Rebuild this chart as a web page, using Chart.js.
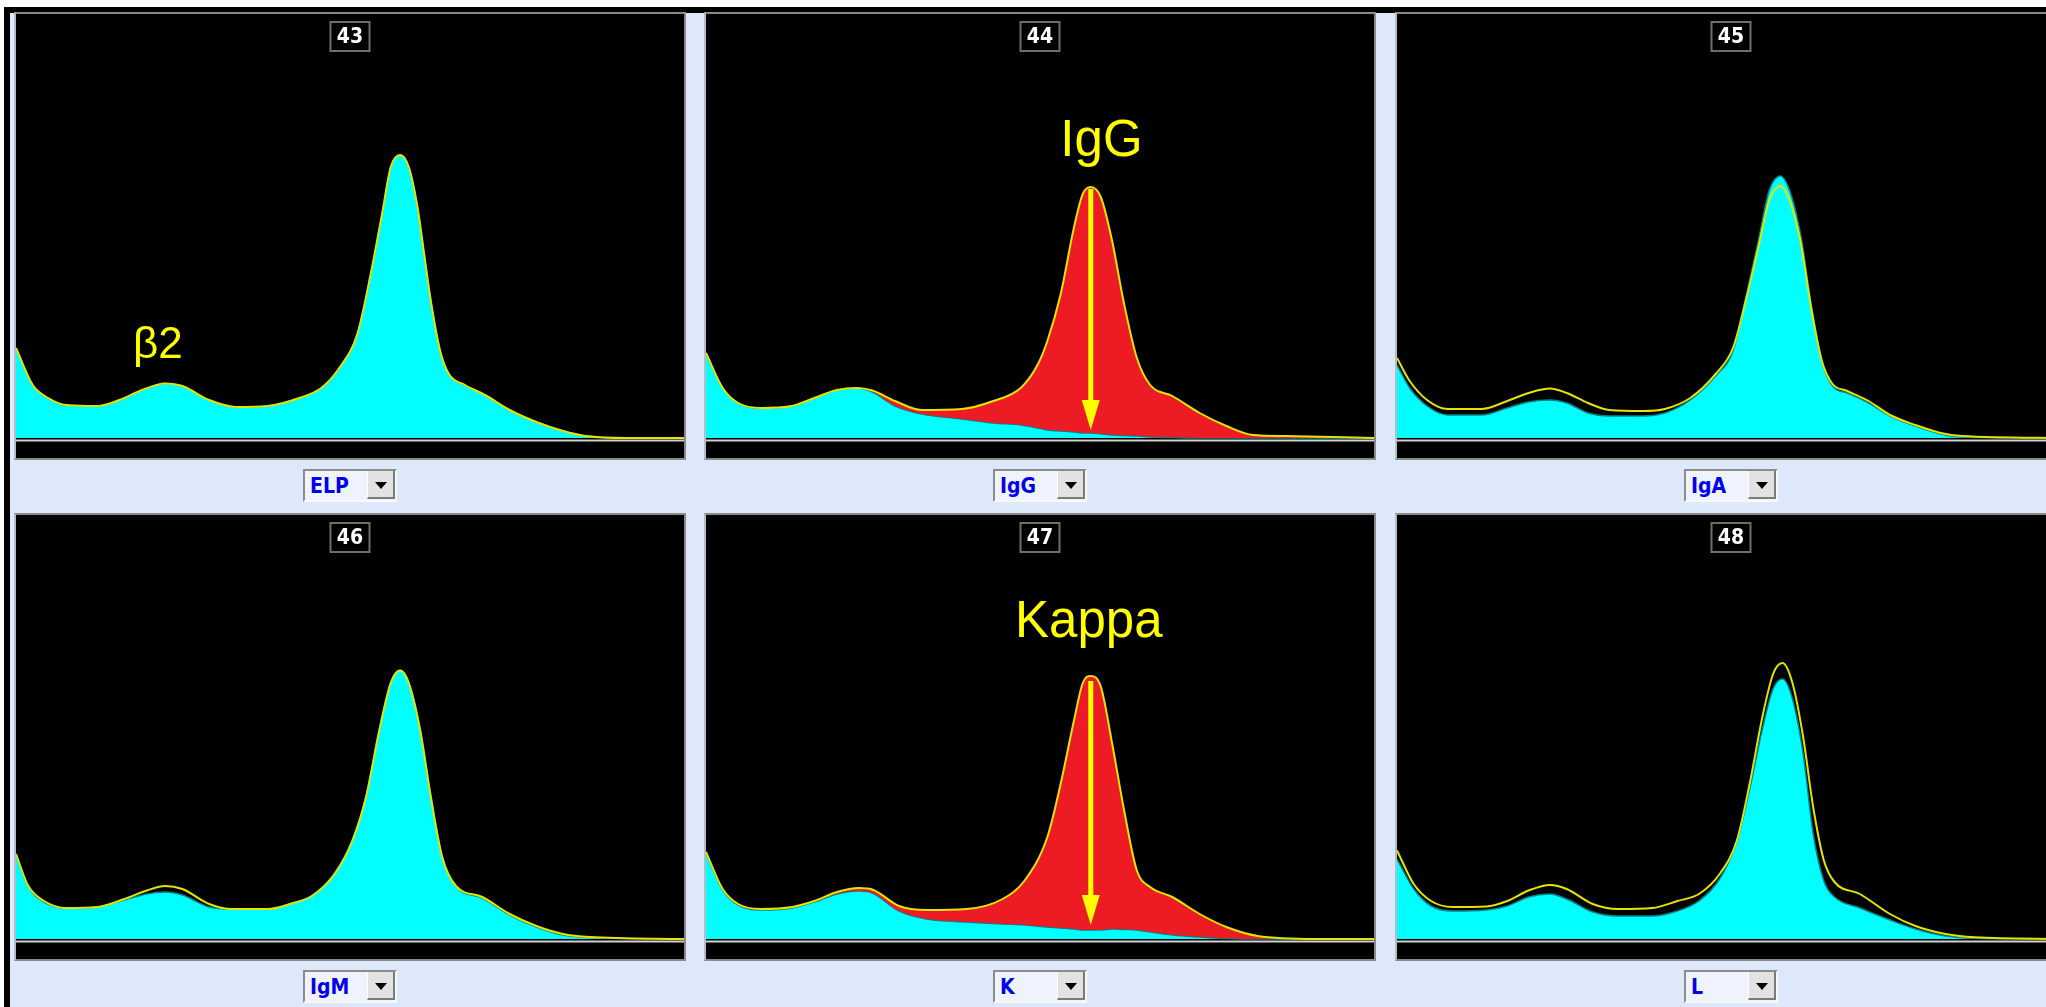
<!DOCTYPE html>
<html>
<head>
<meta charset="utf-8">
<script src="https://cdn.jsdelivr.net/npm/chart.js@4"></script>
<style>
  body { margin: 0; width: 2046px; height: 1007px; overflow: hidden; background: #fff; position: relative; font-family: "Liberation Sans", Arial, sans-serif; }
  #frame { position: absolute; left: 4px; top: 7px; width: 2100px; height: 1100px; background: #dee8fb; border-left: 6px solid #000; border-top: 6px solid #000; }
  .panel { position: absolute; width: 668px; height: 444px; background: #000; border: 2px solid #8a8a8a; border-left-color: #b4bccc; }
  .panel canvas { position: absolute; left: 0; top: 0; }
  .num { position: absolute; top: 7px; left: 50%; transform: translateX(-50%); width: 37px; height: 27px; border: 2px solid #6e6e6e;
         color: #fff; font: bold 21px "Liberation Sans Narrow", "DejaVu Sans Condensed", sans-serif; text-align: center; line-height: 27px; z-index: 2; }
  .combo { position: absolute; width: 90px; height: 29px; border: 2px solid; border-color: #8c8c8c #f8f8f8 #f8f8f8 #8c8c8c; background: #eef3fd; }
  .combo span { position: absolute; left: 5px; top: 3px; color: #0000ee; font: bold 21px "Liberation Sans Narrow", "DejaVu Sans Condensed", sans-serif; }
  .combo .btn { position: absolute; right: 0; top: 0; width: 25px; height: 26px; background: #e2e2e2; border-right: 2px solid #7a7a7a; border-bottom: 2px solid #7a7a7a; border-left: 1px solid #fff; }
  .combo .btn::after { content: ""; position: absolute; left: 7px; top: 11px; border-left: 6px solid transparent; border-right: 6px solid transparent; border-top: 7px solid #000; }
</style>
</head>
<body>
<div id="frame"></div>
<script>
// strip numbers and the selected antiserum of each strip
const panelNums = [43, 44, 45, 46, 47, 48];
const panelNames = ["ELP", "IgG", "IgA", "IgM", "K", "L"];

// x = position along the strip (% of width), values = trace height
const elpX = [0, 2.5, 4.8, 7.5, 12.2, 15.5, 18.9, 22.3, 24.9, 28.9, 33.0, 37.7, 42.4, 45.7, 48.4, 51.1, 53.1, 54.8, 56.1, 57.5, 58.8, 60.1, 61.1, 62.1, 63.5, 64.8, 67.2, 70.2, 73.9, 77.9, 81.9, 85.3, 91.3, 100];
const elpYellow = [90, 53, 40, 33, 32, 38, 48, 54.5, 52, 38, 31, 32, 40, 50, 70, 104, 164, 224, 271, 283, 271, 231, 184, 137, 87, 64, 53, 43, 28, 16, 7, 2, 0, 0];
const elpCyan = [90, 53, 40, 33, 32, 38, 48, 54.5, 52, 38, 31, 32, 40, 50, 70, 104, 164, 224, 271, 283, 271, 231, 184, 137, 87, 64, 53, 43, 28, 16, 7, 2, 0, 0];

const iggX = [0, 2.5, 4.8, 8.2, 12.9, 16.2, 19.6, 22.6, 24.9, 28.3, 32.3, 38.3, 43.0, 47.1, 49.7, 51.1, 53.1, 55.1, 56.4, 57.6, 59.1, 60.8, 62.5, 64.5, 66.5, 69.8, 73.9, 77.9, 81.9, 86.6, 100];
const iggYellow = [85, 50, 35, 30, 32, 40, 48, 50, 47.5, 37, 28, 29, 37, 50, 74, 97, 144, 211, 244, 251, 241, 197, 137, 80, 53, 42, 25, 12, 3, 2, 0];
const iggCyan = [85, 50, 35, 30, 32, 40, 48, 50, 46, 32, 24, 19, 15, 13, 10, 8, 7, 6, 5, 5, 4, 3, 2.5, 2, 1, 0.5, 0, 0, 0, 0, 0];

const igaX = [0, 1.9, 4.5, 7.6, 12.7, 16.5, 19.7, 22.9, 25.4, 28.6, 31.8, 36.9, 40.1, 43.9, 47.7, 50.3, 52.2, 54.1, 55.7, 57.4, 58.8, 60.4, 62.0, 63.6, 65.2, 67.4, 70.6, 73.8, 77.6, 81.4, 84.6, 100];
const igaYellow = [80, 57, 38, 29, 29, 37, 45, 49.5, 45, 35, 28, 27, 29, 40, 64, 90, 137, 191, 237, 252, 237, 197, 130, 77, 54, 47, 37, 23, 13, 5, 2, 0];
const igaCyan = [73, 50, 32, 23, 23, 30, 36, 38, 35, 25, 22, 22, 25, 38, 62, 87, 140, 197, 247, 262, 247, 204, 134, 77, 52, 45, 35, 22, 12, 4, 1, 0];

const igmX = [0, 1.8, 4.2, 7.5, 12.2, 16.2, 19.6, 22.3, 24.9, 28.9, 32.3, 37.7, 41.0, 44.4, 47.7, 50.4, 52.4, 54.4, 56.1, 57.5, 58.8, 60.5, 62.1, 63.8, 65.8, 69.8, 73.9, 77.9, 81.9, 85.9, 100];
const igmYellow = [85, 53.5, 38, 31, 32, 40, 48.5, 53, 50, 35, 30, 30, 35, 43.5, 65, 99, 142, 209, 256, 268.5, 256, 209, 142, 82, 53.5, 42, 25, 13, 5, 2, 0];
const igmCyan = [85, 53, 37, 31, 32, 39, 45, 47, 44, 32, 30, 30, 35, 44, 66, 100, 143, 210, 257, 269, 257, 210, 143, 83, 53, 41, 24, 12, 4, 1.5, 0];

const kappaX = [0, 2.5, 4.8, 8.2, 12.9, 16.2, 19.6, 22.9, 24.9, 28.9, 33.0, 39.0, 44.4, 47.7, 51.1, 53.1, 55.1, 56.4, 57.6, 59.1, 60.8, 62.5, 64.5, 66.5, 69.8, 73.9, 77.9, 82.6, 91.3, 100];
const kappaYellow = [87, 50, 35, 30, 32, 38, 47, 51, 49.5, 33, 29, 30, 40, 58.5, 102, 155.5, 219, 256, 263, 252.5, 195.5, 132, 68.5, 52, 42, 25, 12, 3, 0, 0];
const kappaCyan = [86, 49, 34, 29, 31, 37, 45, 48, 46, 28, 20, 17, 15, 14, 12, 11, 10, 9, 9, 9, 10, 9.5, 9, 7, 4, 2, 0.5, 0, 0, 0];

const lambdaX = [0, 2.5, 5.1, 8.3, 13.4, 16.5, 19.7, 22.9, 25.4, 29.3, 33.1, 38.2, 42.0, 45.2, 48.3, 50.9, 52.8, 54.7, 56.3, 57.7, 59.2, 60.8, 62.3, 63.9, 65.5, 69.3, 73.8, 77.6, 82.1, 86.5, 100];
const lambdaYellow = [88.6, 55, 38, 32, 32.5, 38, 48.5, 54, 50, 35, 30, 31, 38, 45, 65, 99, 155.5, 222, 265, 276, 256, 202, 132, 78.6, 57, 45, 25, 13, 5, 1.7, 0];
const lambdaCyan = [80, 50, 33, 28, 29, 33, 42, 45, 40, 27, 23, 23, 28, 38, 60, 98, 150, 210, 250, 260, 240, 185, 105, 58, 42, 31, 19, 10, 3, 0.7, 0];

const traces = [
  [elpX, elpYellow, elpCyan],
  [iggX, iggYellow, iggCyan],
  [igaX, igaYellow, igaCyan],
  [igmX, igmYellow, igmCyan],
  [kappaX, kappaYellow, kappaCyan],
  [lambdaX, lambdaYellow, lambdaCyan]
];

// the red "removed" area only shows on the IgG and Kappa strips
const redFill = [false, true, false, false, true, false];

// annotations, in data units of their strip
const notes = {
  0: { text: "β2", x: 17.5, y: 80, size: 44, align: "left" },
  1: { text: "IgG", x: 59.2, y: 282.5, size: 51, align: "center", arrow: [57.6, 249, 8] },
  4: { text: "Kappa", x: 57.3, y: 302, size: 51, align: "center", arrow: [57.6, 258, 14] }
};

const colLeft = [14, 704, 1395];
const rowTop = [12, 513];

// white baseline under the trace, then the yellow text and arrows on top
const overlay = {
  id: "overlay",
  beforeDatasetsDraw(chart) {
    const { ctx, scales: { x, y } } = chart;
    ctx.save();
    ctx.strokeStyle = "#d0d0d0";
    ctx.lineWidth = 2;
    ctx.beginPath();
    ctx.moveTo(x.getPixelForValue(0), y.getPixelForValue(-2.5));
    ctx.lineTo(x.getPixelForValue(100), y.getPixelForValue(-2.5));
    ctx.stroke();
    ctx.restore();
  },
  afterDatasetsDraw(chart, args, opts) {
    const note = opts.note;
    if (!note) return;
    const { ctx, scales: { x, y } } = chart;
    ctx.save();
    ctx.fillStyle = "#ffff00";
    ctx.strokeStyle = "#ffff00";
    ctx.font = note.size + 'px "Liberation Sans", Arial, sans-serif';
    ctx.textAlign = note.align;
    ctx.textBaseline = "alphabetic";
    ctx.fillText(note.text, x.getPixelForValue(note.x), y.getPixelForValue(note.y));
    if (note.arrow) {
      const ax = x.getPixelForValue(note.arrow[0]);
      const top = y.getPixelForValue(note.arrow[1]);
      const tip = y.getPixelForValue(note.arrow[2]);
      ctx.lineWidth = 5;
      ctx.beginPath();
      ctx.moveTo(ax, top);
      ctx.lineTo(ax, tip - 26);
      ctx.stroke();
      ctx.beginPath();
      ctx.moveTo(ax - 9, tip - 30);
      ctx.lineTo(ax + 9, tip - 30);
      ctx.lineTo(ax, tip);
      ctx.closePath();
      ctx.fill();
    }
    ctx.restore();
  }
};

panelNums.forEach((num, i) => {
  const left = colLeft[i % 3];
  const top = rowTop[Math.floor(i / 3)];

  const panel = document.createElement("div");
  panel.className = "panel";
  panel.style.left = left + "px";
  panel.style.top = top + "px";

  const canvas = document.createElement("canvas");
  canvas.width = 668;
  canvas.height = 444;
  panel.appendChild(canvas);

  const box = document.createElement("div");
  box.className = "num";
  box.textContent = num;
  panel.appendChild(box);
  document.body.appendChild(panel);

  // the antiserum selector under each strip
  const combo = document.createElement("div");
  combo.className = "combo";
  combo.style.left = (left + 2 + 287) + "px";
  combo.style.top = (top + 457) + "px";
  combo.innerHTML = `<span>${panelNames[i]}</span><div class="btn"></div>`;
  document.body.appendChild(combo);

  const [xs, yellow, cyan] = traces[i];

  new Chart(canvas, {
    type: "line",
    data: {
      datasets: [
        {
          label: "reference",
          data: xs.map((v, k) => ({ x: v, y: yellow[k] })),
          borderColor: "#e4e400",
          borderWidth: 2,
          pointRadius: 0,
          cubicInterpolationMode: "monotone",
          fill: redFill[i] ? { target: 1, above: "#ed1c24", below: "rgba(0,0,0,0)" } : false
        },
        {
          label: panelNames[i],
          data: xs.map((v, k) => ({ x: v, y: cyan[k] })),
          borderColor: "#00868b",
          borderWidth: 1.5,
          backgroundColor: "#00ffff",
          pointRadius: 0,
          cubicInterpolationMode: "monotone",
          fill: "origin"
        }
      ]
    },
    options: {
      responsive: false,
      animation: false,
      layout: { padding: 0 },
      scales: {
        x: { type: "linear", min: 0, max: 100, display: false },
        y: { min: -20, max: 424, display: false }
      },
      plugins: {
        legend: { display: false },
        tooltip: { enabled: false },
        overlay: { note: notes[i] }
      }
    },
    plugins: [overlay]
  });
});
</script>
</body>
</html>
